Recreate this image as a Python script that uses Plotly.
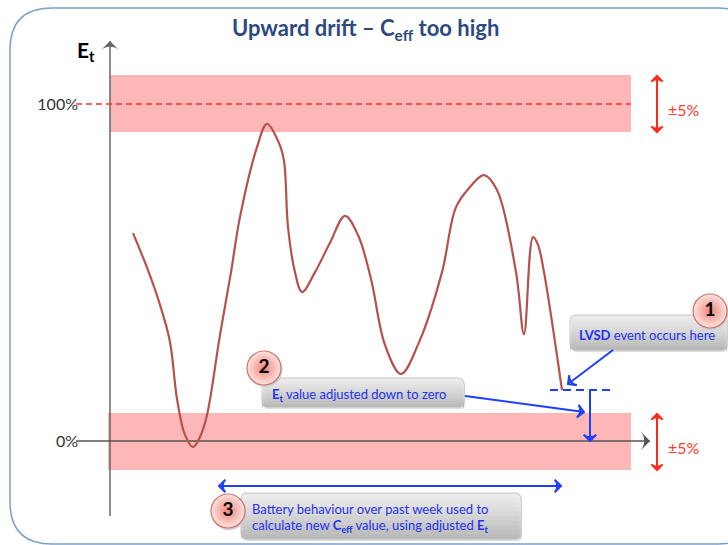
import math

import plotly.graph_objects as go

FONT = "Lato"
BLUE = "#2433f0"
ARROW_BLUE = "#1f3fff"
RED = "#ff2a1a"

# courbe Et, x en unités de temps arbitraires, Et en %
time_pts = [133, 148, 160, 170, 177, 185, 193, 200, 207, 220, 231, 240, 257, 267, 279, 284, 288, 295, 302, 315,
            330, 345, 358, 371, 385, 401, 420, 442, 456, 470, 484, 497, 516, 524, 533, 538, 544, 562]
et_pts = [61.7, 50.7, 40.4, 29.4, 12.5, 1.8, -1.8, 1.2, 7.7, 31.5, 50.1, 66.5, 87.2, 94.1, 88.4, 83.1, 63.5, 50.1, 44.2, 50.1,
          58.8, 66.8, 61.1, 48.1, 28.5, 19.9, 30.0, 50.1, 69.4, 75.4, 78.9, 74.5, 50.1, 31.7, 60.5, 58.2, 50.1, 15.1]

tick_vals = [0, 100]
tick_labels = ["0%", "100%"]
badge_labels = ["1", "2", "3"]


def y_px(py):
    """Position verticale du dessin (pixels) vers l'échelle Et"""
    return (441 - py) / 3.37


def rounded_path(x0, py0, x1, py1, r):
    y0, y1 = y_px(py0), y_px(py1)
    ry = r / 3.37
    return (f"M{x0 + r},{y0} L{x1 - r},{y0} Q{x1},{y0} {x1},{y0 - ry} L{x1},{y1 + ry} Q{x1},{y1} {x1 - r},{y1} "
            f"L{x0 + r},{y1} Q{x0},{y1} {x0},{y1 + ry} L{x0},{y0 - ry} Q{x0},{y0} {x0 + r},{y0} Z")


def callout(x0, py0, x1, py1):
    """Boîte grise avec dégradé approximé par couches"""
    out = [dict(type="path", path=rounded_path(x0 + 1, py0 + 2, x1 + 1, py1 + 2, 6), fillcolor="#dddddd",
                line_width=0, layer="below")]
    levels = [236, 231, 226, 221, 216, 210, 204, 198, 192, 186]
    step = (py1 - py0) / len(levels)
    for i, g in enumerate(levels):
        out.append(dict(type="path", path=rounded_path(x0, py0 + i * step, x1, py1, 6), fillcolor=f"rgb({g},{g},{g})",
                        line=dict(color="#c4c4c4", width=1) if i == 0 else dict(width=0), layer="below"))
    return out


def add_arrow(fig, x0, py0, x1, py1, color, width=2, both=False, symbol="arrow-wide-open", size=9):
    """Flèche en trace: une ligne et un marqueur orienté à chaque pointe"""
    angle = math.degrees(math.atan2(x1 - x0, py0 - py1))
    xs, ys, angles = [x1], [y_px(py1)], [angle]
    if both:
        xs.append(x0)
        ys.append(y_px(py0))
        angles.append(angle + 180)
    fig.add_trace(go.Scatter(x=[x0, x1], y=[y_px(py0), y_px(py1)], mode="lines", line=dict(color=color, width=width)))
    fig.add_trace(go.Scatter(x=xs, y=ys, mode="markers",
                             marker=dict(symbol=symbol, size=size, angle=angles, color=color,
                                         line=dict(color=color, width=width if "open" in symbol else 0))))


def label(x, py, text, size=13, color=BLUE, anchor="center"):
    return dict(x=x, y=y_px(py), xref="x", yref="y", text=text, showarrow=False, xanchor=anchor, yanchor="middle",
                font=dict(family=FONT, size=size, color=color))


fig = go.Figure()

# axes fléchés
add_arrow(fig, 110, 516, 110, 41, "#666666", 1.5, symbol="arrow-wide", size=14)
add_arrow(fig, 76, 441, 650, 441, "#555555", 1.3, symbol="arrow-wide", size=14)

# référence 100% et courbe
fig.add_trace(go.Scatter(x=[76, 631], y=[100, 100], mode="lines", line=dict(color="#ff3030", width=1.5, dash="6px,4px")))
fig.add_trace(go.Scatter(x=time_pts, y=et_pts, mode="lines", line=dict(color="#b5524f", width=2.2, shape="spline", smoothing=1)))
# niveau ajusté de l'événement LVSD
fig.add_trace(go.Scatter(x=[550, 615], y=[y_px(390), y_px(390)], mode="lines",
                         line=dict(color=ARROW_BLUE, width=2, dash="8px,5px")))

add_arrow(fig, 657, 132, 657, 76, RED, 2, both=True, size=8)
add_arrow(fig, 657, 470, 657, 414, RED, 2, both=True, size=8)
add_arrow(fig, 613, 350, 568, 384, ARROW_BLUE)
add_arrow(fig, 465, 396, 584, 412, ARROW_BLUE)
add_arrow(fig, 590, 390, 590, 441, ARROW_BLUE)
add_arrow(fig, 219, 486, 561, 486, ARROW_BLUE, both=True)

# pastilles
badge_x = [710, 264, 228]
badge_y = [y_px(311), y_px(368), y_px(511)]
fig.add_trace(go.Scatter(x=[v + 1 for v in badge_x], y=[v - 0.5 for v in badge_y], mode="markers",
                         marker=dict(size=35, color="#cfcfcf", line_width=0)))
fig.add_trace(go.Scatter(x=badge_x, y=badge_y, mode="markers+text", text=badge_labels, textposition="middle center",
                         textfont=dict(family=FONT, size=19, color="black", weight="bold"),
                         marker=dict(size=34, color="#fde3df", gradient=dict(type="radial", color="#f0857c"),
                                     line=dict(color="#d0736a", width=1.2))))

shapes = [
    dict(type="path", path=rounded_path(10, 8, 760, 544, 42), fillcolor="white",
         line=dict(color="#7c9fcb", width=1.5), layer="below"),
    dict(type="rect", x0=110, x1=631, y0=y_px(75), y1=y_px(132), fillcolor="#fdb7b6", line_width=0, layer="below"),
    dict(type="rect", x0=108, x1=631, y0=y_px(413), y1=y_px(470), fillcolor="#fdb7b6", line_width=0, layer="below"),
]
shapes += callout(570, 315, 727, 350) + callout(262, 378, 464, 407) + callout(241, 493, 521, 539)

annotations = [
    label(365, 29, "<b>Upward drift – C<sub>eff</sub> too high</b>", 22, "#2c4a7f"),
    label(86, 51, "<b>E<sub>t</sub></b>", 21, "black"),
    label(684, 109, "±5%", 16, "#ff3b2f"),
    label(684, 447, "±5%", 16, "#ff3b2f"),
    label(647, 335, "<b>LVSD</b> event occurs here", 13),
    label(270, 395, "<b>E<sub>t</sub></b> value adjusted down to zero", 13, anchor="left"),
    label(250, 509, "Battery behaviour over past week used to", 13, anchor="left"),
    label(250, 526, "calculate new <b>C<sub>eff</sub></b> value, using adjusted <b>E<sub>t</sub></b>", 13, anchor="left"),
]

fig.update_layout(
    width=728,
    height=545,
    margin=dict(l=0, r=0, t=0, b=0),
    paper_bgcolor="white",
    plot_bgcolor="white",
    showlegend=False,
    shapes=shapes,
    annotations=annotations,
    xaxis=dict(range=[0, 728], visible=False),
    yaxis=dict(range=[y_px(545), y_px(0)], anchor="free", position=110 / 728, tickvals=tick_vals, ticktext=tick_labels,
               showgrid=False, zeroline=False, showline=False, ticks="", ticklabelstandoff=32,
               tickfont=dict(family=FONT, size=16, color="#333333")),
)

fig.write_html("out.html", config=dict(displayModeBar=False),
               post_script="document.body.style.margin='0';document.body.style.overflow='hidden';")
